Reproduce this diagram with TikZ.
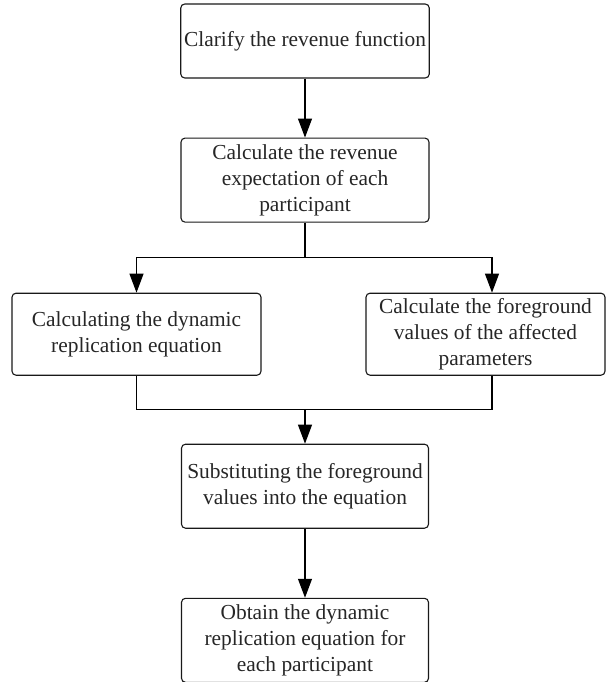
\documentclass[tikz,border=0pt]{standalone}
\usepackage{fontspec}
\setmainfont{Liberation Serif}
\usetikzlibrary{positioning,arrows.meta}
\newcommand{\boxfont}{\fontsize{21.4}{26}\selectfont}
\tikzset{
  stage/.style={rectangle, rounded corners=4pt, minimum width=248pt, minimum height=84pt, text centered, align=center, draw=black!90, line width=1.1pt, font=\boxfont, text=black!85},
  arr/.style={-{Triangle[length=19pt,width=14pt]}},
  node distance=59pt
}
\begin{document}
\begin{tikzpicture}[x=1pt,y=-1pt,line width=1.1pt]
	\useasboundingbox (0,0) rectangle (606,682);
	\node[stage, minimum height=74pt] (clarify) at (305,41) {Clarify the revenue function};
	\node[stage, below=of clarify] (expect) {Calculate the revenue\\ expectation of each\\ participant};
	\node[stage, minimum width=249pt, minimum height=82pt, below=70pt of expect, xshift=-168.5pt] (dynamic) {Calculating the dynamic\\ replication equation};
	\node[stage, minimum width=239pt, minimum height=82pt, below=70pt of expect, xshift=180.5pt] (foreground) {Calculate the foreground\\ values of the affected\\ parameters};
	\node[stage, minimum width=247pt, below=221pt of expect] (substitute) {Substituting the foreground\\ values into the equation};
	\node[stage, minimum width=247pt, below=69pt of substitute] (obtain) {Obtain the dynamic\\ replication equation for\\ each participant};
	%
	\draw[arr] (clarify) -- (expect);
	\draw (expect.south) -- ++(0,35) coordinate (split);
	\draw[arr] (split) -| (dynamic.north);
	\draw[arr] (split) -| ([xshift=6.5pt]foreground.north);
	\draw (dynamic.south) -- ++(0,34) coordinate (join) -| ([xshift=6.5pt]foreground.south);
	\coordinate (merge) at (join -| substitute.north);
	\draw[arr] (merge) -- (substitute.north);
	\draw[arr] (substitute) -- (obtain);
\end{tikzpicture}
\end{document}
